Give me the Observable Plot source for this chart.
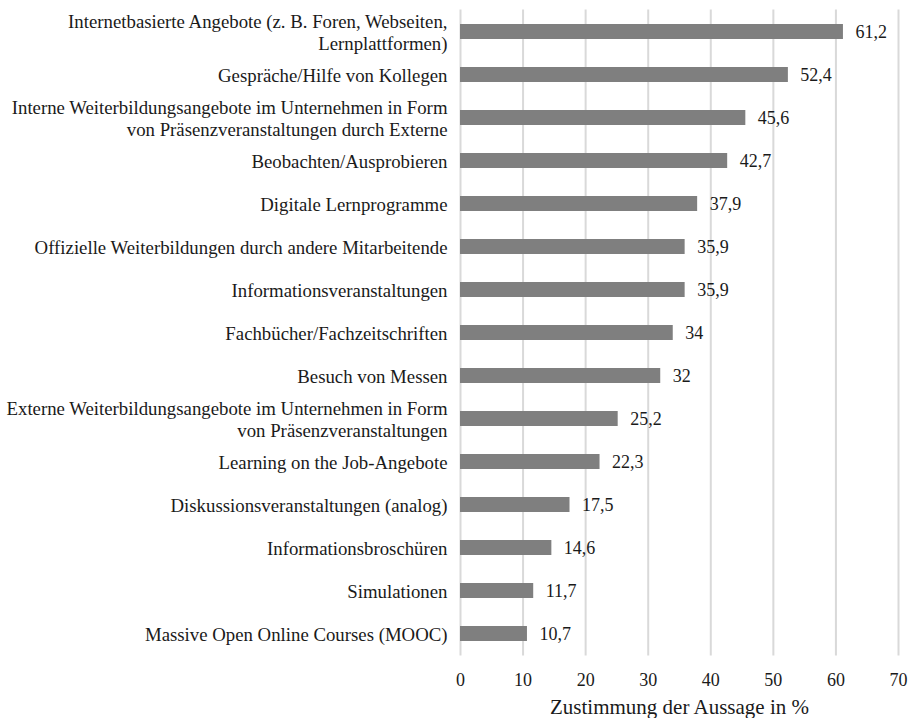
<!DOCTYPE html>
<html>
<head>
<meta charset="utf-8">
<script src="https://cdn.jsdelivr.net/npm/d3@7"></script>
<script src="https://cdn.jsdelivr.net/npm/@observablehq/plot@0.6"></script>
<style>
  body { margin: 0; background: #fff; }
  #chart svg { display: block; }
</style>
</head>
<body>
<div id="chart"></div>
<script>
const categories = [
  "Internetbasierte Angebote (z. B. Foren, Webseiten,\nLernplattformen)",
  "Gespräche/Hilfe von Kollegen",
  "Interne Weiterbildungsangebote im Unternehmen in Form\nvon Präsenzveranstaltungen durch Externe",
  "Beobachten/Ausprobieren",
  "Digitale Lernprogramme",
  "Offizielle Weiterbildungen durch andere Mitarbeitende",
  "Informationsveranstaltungen",
  "Fachbücher/Fachzeitschriften",
  "Besuch von Messen",
  "Externe Weiterbildungsangebote im Unternehmen in Form\nvon Präsenzveranstaltungen",
  "Learning on the Job-Angebote",
  "Diskussionsveranstaltungen (analog)",
  "Informationsbroschüren",
  "Simulationen",
  "Massive Open Online Courses (MOOC)"
];
const values = [61.2, 52.4, 45.6, 42.7, 37.9, 35.9, 35.9, 34, 32, 25.2, 22.3, 17.5, 14.6, 11.7, 10.7];
const xTicks = [0, 10, 20, 30, 40, 50, 60, 70];
const xLabel = "Zustimmung der Aussage in %";

const data = categories.map((c, i) => ({category: c, value: values[i]}));
const fmt = v => String(v).replace(".", ",");
const serif = "'Liberation Serif', 'Times New Roman', serif";
const ink = "#1a1a1a";

const chart = Plot.plot({
  width: 913,
  height: 718,
  marginLeft: 460,
  marginRight: 15,
  marginTop: 9.5,
  marginBottom: 62.5,
  style: {fontFamily: serif, fontSize: "18px", color: ink, background: "#fff", overflow: "visible"},
  x: {domain: [0, 70], ticks: xTicks, label: null},
  y: {domain: categories, paddingInner: 0.65, paddingOuter: 0.325, align: 0.5, axis: null},
  marks: [
    Plot.ruleX(xTicks, {stroke: "#d9d9d9", strokeWidth: 2}),
    Plot.barX(data, {y: "category", x: "value", fill: "#7f7f7f"}),
    Plot.axisX({ticks: xTicks, tickSize: 0, tickPadding: 17, fontSize: 18, fontFamily: serif, fill: ink, label: null, tickFormat: d => String(d)}),
    Plot.text(data, {y: "category", text: "category", frameAnchor: "left", textAnchor: "end", dx: -13, lineHeight: 1.18, fontSize: 18.8, fontFamily: serif, fill: ink}),
    Plot.text(data, {y: "category", x: "value", text: d => fmt(d.value), textAnchor: "start", dx: 12, fontSize: 18, fontFamily: serif, fill: ink}),
    Plot.text([xLabel], {frameAnchor: "bottom", lineAnchor: "middle", dy: 51, text: d => d, fontSize: 21, fontFamily: serif, fill: ink})
  ]
});
document.getElementById("chart").appendChild(chart);
</script>
</body>
</html>
